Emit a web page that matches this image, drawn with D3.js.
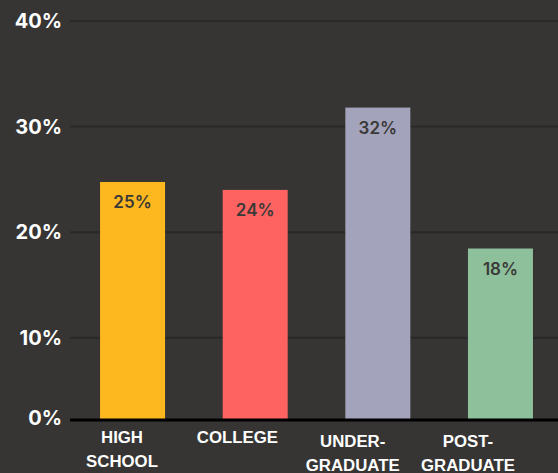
<!DOCTYPE html>
<html>
<head>
<meta charset="utf-8">
<script src="https://cdn.jsdelivr.net/npm/d3@7"></script>
<style>
  html, body { margin: 0; padding: 0; background: #363534; }
  svg { display: block; }
</style>
</head>
<body>
<svg id="chart" width="558" height="473"></svg>
<script>
const categories = [["HIGH", "SCHOOL"], ["COLLEGE"], ["UNDER-", "GRADUATE"], ["POST-", "GRADUATE"]];
const values = [24.75, 24.0, 31.8, 18.45];
const colors = ["#fdb71f", "#ff6361", "#a3a3bb", "#8ec09c"];
const yTicks = [0, 10, 20, 30, 40];

const W = 558, H = 473;
const svg = d3.select("#chart");
svg.append("rect").attr("width", W).attr("height", H).attr("fill", "#363534");

const x = d3.scaleBand().domain(d3.range(categories.length)).range([70, 563]).paddingInner(0.47).paddingOuter(0.245);
const xLab = d3.scalePoint().domain(d3.range(categories.length)).range([122, 468]);
const y = d3.scaleLinear().domain([0, 40]).range([443.3, 21]);
const baseY = 420;

// gridlines
svg.append("g").selectAll("line").data(yTicks.filter(d => d > 0)).join("line")
  .attr("x1", 70).attr("x2", W)
  .attr("y1", d => y(d)).attr("y2", d => y(d))
  .attr("stroke", "#2a2928").attr("stroke-width", 2);

// y tick labels
svg.append("g").selectAll("text").data(yTicks).join("text")
  .attr("x", 62)
  .attr("y", d => d === 0 ? baseY - 2.5 : y(d))
  .attr("dy", "0.36em")
  .attr("text-anchor", "end")
  .attr("fill", "#ffffff")
  .attr("font-family", "Inter, 'DejaVu Sans', sans-serif")
  .attr("font-weight", 700)
  .attr("font-size", "20px")
  .text(d => d + "%");

// bars
svg.append("g").selectAll("rect").data(values).join("rect")
  .attr("x", (d, i) => x(i))
  .attr("y", d => y(d))
  .attr("width", x.bandwidth())
  .attr("height", d => baseY - y(d))
  .attr("fill", (d, i) => colors[i]);

// value labels
svg.append("g").selectAll("text").data(values).join("text")
  .attr("x", (d, i) => x(i) + x.bandwidth() / 2)
  .attr("y", d => y(d) + 20)
  .attr("dy", "0.36em")
  .attr("text-anchor", "middle")
  .attr("fill", "#3a3937")
  .attr("font-family", "Inter, 'DejaVu Sans', sans-serif")
  .attr("font-weight", 600)
  .attr("font-size", "17px")
  .text(d => Math.round(d) + "%");

// baseline
svg.append("line")
  .attr("x1", 70).attr("x2", W)
  .attr("y1", baseY).attr("y2", baseY)
  .attr("stroke", "#000000").attr("stroke-width", 3);

// x labels
const xl = svg.append("g").selectAll("text").data(categories).join("text")
  .attr("x", (d, i) => xLab(i))
  .attr("y", (d, i) => i >= 2 ? 441 : 437)
  .attr("text-anchor", "middle")
  .attr("fill", "#ffffff")
  .attr("font-family", "'Liberation Sans', Arial, sans-serif")
  .attr("font-weight", 700)
  .attr("font-size", "16.8px");
xl.each(function(d) {
  const t = d3.select(this);
  d.forEach((line, j) => {
    t.append("tspan")
      .attr("x", t.attr("x"))
      .attr("dy", j === 0 ? "0.36em" : "1.42em")
      .text(line);
  });
});
</script>
</body>
</html>
